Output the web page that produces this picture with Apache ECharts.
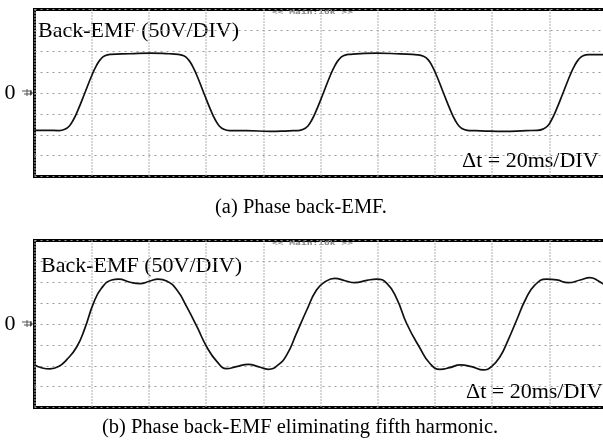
<!DOCTYPE html>
<html><head><meta charset="utf-8">
<script src="https://cdn.jsdelivr.net/npm/echarts@6/dist/echarts.min.js"></script>
<style>html,body{margin:0;padding:0;background:#fff}#c{width:603px;height:440px}</style>
</head><body><div id="c"></div>
<script>
// Panel (a): time in divisions (20 ms/div), voltage in divisions (50 V/div)
const timeA = [0,0.20,0.43,0.53,0.61,0.68,0.75,0.88,1.01,1.08,1.15,1.23,1.33,1.67,2.02,2.35,2.51,2.61,2.69,2.76,2.83,2.96,3.09,3.16,3.23,3.31,3.41,3.71,4.12,4.45,4.60,4.70,4.78,4.85,4.92,5.05,5.18,5.25,5.32,5.40,5.50,5.98,6.39,6.70,6.80,6.88,6.95,7.02,7.15,7.28,7.35,7.42,7.50,7.60,7.80,8.20,8.60,8.79,8.89,8.97,9.04,9.11,9.24,9.37,9.44,9.51,9.59,9.69,10.0];
const emfA  = [-1.79,-1.79,-1.80,-1.74,-1.58,-1.28,-0.88,0,0.90,1.30,1.60,1.78,1.85,1.88,1.91,1.88,1.85,1.78,1.60,1.30,0.90,0,-0.88,-1.28,-1.58,-1.74,-1.80,-1.80,-1.84,-1.81,-1.80,-1.74,-1.58,-1.28,-0.88,0,0.90,1.30,1.60,1.78,1.85,1.91,1.87,1.83,1.76,1.60,1.30,0.90,0,-0.88,-1.28,-1.58,-1.74,-1.80,-1.81,-1.84,-1.80,-1.79,-1.73,-1.58,-1.28,-0.88,0,0.90,1.30,1.60,1.78,1.84,1.84];
// Panel (b)
const timeB = [0,0.27,0.42,0.56,0.74,0.88,1.03,1.17,1.35,1.47,1.67,1.84,2.02,2.16,2.31,2.49,2.66,2.84,3.01,3.19,3.36,3.53,3.74,3.91,4.09,4.26,4.41,4.58,4.76,4.93,5.08,5.25,5.43,5.60,5.81,5.98,6.16,6.33,6.51,6.74,6.91,7.09,7.26,7.44,7.64,7.85,7.99,8.14,8.28,8.43,8.58,8.75,8.95,9.13,9.33,9.54,9.71,9.83,10.0];
const emfB  = [-1.96,-2.15,-2.04,-1.72,-1.09,-0.21,0.99,1.71,2.11,2.15,2.00,1.93,2.06,2.15,2.06,1.63,0.83,-0.13,-1.09,-1.80,-2.14,-2.04,-1.93,-2.04,-2.17,-1.96,-1.48,-0.45,0.67,1.63,2.02,2.19,2.07,1.98,2.09,2.15,1.95,1.23,0.0,-1.16,-1.88,-2.17,-2.09,-1.96,-2.04,-2.20,-2.04,-1.56,-0.77,0.19,1.15,1.87,2.15,2.11,1.98,2.11,2.22,2.11,1.80];

const panelLabel = 'Back-EMF (50V/DIV)';
const timeLabel = '\u0394t = 20ms/DIV';
const scopeTag = '<< Main:10k >>';
const captionA = '(a) Phase back-EMF.';
const captionB = '(b) Phase back-EMF eliminating fifth harmonic.';

const SERIF = '"Liberation Serif", "DejaVu Serif", serif';
const chart = echarts.init(document.getElementById('c'), null, {renderer:'canvas'});

function xAx(gi){
  return {gridIndex:gi,type:'value',min:0,max:10,interval:1,
    axisLine:{show:false},axisTick:{show:false},axisLabel:{show:false},
    splitLine:{show:true,lineStyle:{color:'#b0b0b0',width:2,type:[1,2]}}};
}
function yAx(gi){
  return {gridIndex:gi,type:'value',min:-4,max:4,interval:1,
    axisLine:{show:false},axisTick:{show:false},
    axisLabel:{show:true,margin:19,fontFamily:SERIF,fontSize:22,color:'#000',
      formatter:function(v){return v===0?'0':'';}},
    splitLine:{show:true,lineStyle:{color:'#9a9a9a',width:1,type:[2,4]}}};
}
function ground(cx,cy){
  return {type:'group',children:[
    {type:'line',shape:{x1:cx-10,y1:cy-2,x2:cx,y2:cy-2},style:{stroke:'#555',lineWidth:1}},
    {type:'line',shape:{x1:cx-8,y1:cy+1,x2:cx,y2:cy+1},style:{stroke:'#555',lineWidth:1}},
    {type:'line',shape:{x1:cx-5,y1:cy-4,x2:cx-5,y2:cy+3},style:{stroke:'#555',lineWidth:1}},
    {type:'polygon',shape:{points:[[cx-2,cy-3],[cx+1,cy],[cx-2,cy+3]]},style:{fill:'#444'}}
  ]};
}
const grids = [
  {left:34.5,top:9.5,width:572,height:167},
  {left:34.5,top:240.5,width:572,height:167}
].map(g=>Object.assign(g,{show:true,borderColor:'#000',borderWidth:3,backgroundColor:'transparent',containLabel:false,outerBoundsMode:'none'}));

const lineCommon = {type:'line',smooth:0.5,showSymbol:false,lineStyle:{color:'#111',width:1.7},clip:true};

chart.setOption({
  animation:false,
  grid:grids,
  xAxis:[xAx(0),xAx(1)],
  yAxis:[yAx(0),yAx(1)],
  series:[
    Object.assign({},lineCommon,{xAxisIndex:0,yAxisIndex:0,data:timeA.map((t,i)=>[t,emfA[i]])}),
    Object.assign({},lineCommon,{xAxisIndex:1,yAxisIndex:1,data:timeB.map((t,i)=>[t,emfB[i]])})
  ],
  graphic:[
    {type:'text',left:38,top:20,style:{text:panelLabel,font:'22px '+SERIF,fill:'#000'}},
    {type:'text',left:41,top:255,style:{text:panelLabel,font:'22px '+SERIF,fill:'#000'}},
    {type:'text',left:462,top:150,style:{text:timeLabel,font:'22px '+SERIF,fill:'#000'}},
    {type:'text',left:466,top:381,style:{text:timeLabel,font:'22px '+SERIF,fill:'#000'}},
    {type:'text',x:272,y:9,scaleX:1.6,style:{text:scopeTag,font:'bold 6px "DejaVu Sans Mono", monospace',fill:'#888'}},
    {type:'text',x:272,y:240,scaleX:1.6,style:{text:scopeTag,font:'bold 6px "DejaVu Sans Mono", monospace',fill:'#888'}},
    {type:'text',x:301,y:208,style:{text:captionA,font:'20.5px '+SERIF,fill:'#000',align:'center',verticalAlign:'middle'}},
    {type:'text',x:300,y:428,style:{text:captionB,font:'20.5px '+SERIF,fill:'#000',align:'center',verticalAlign:'middle'}},
    ground(32,93),
    ground(32,324)
  ]
});
</script></body></html>
